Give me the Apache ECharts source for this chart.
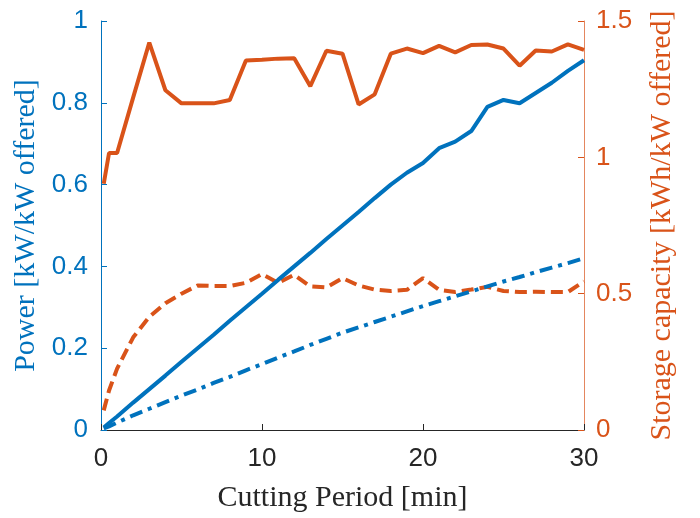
<!DOCTYPE html>
<html><head><meta charset="utf-8">
<script src="https://cdn.jsdelivr.net/npm/echarts@6/dist/echarts.min.js"></script>
<style>html,body{margin:0;padding:0;background:#fff}#c{width:700px;height:518px}</style>
</head><body><div id="c"></div>
<script>
const cuttingPeriod = [0.17,0.5,1,2,3,4,5,6,7,8,9,10,11,12,13,14,15,16,17,18,19,20,21,22,23,24,25,26,27,28,29,30];
const powerSolid = [0.006,0.017,0.033,0.067,0.1,0.133,0.167,0.2,0.233,0.267,0.3,0.333,0.367,0.4,0.433,0.467,0.5,0.533,0.567,0.6,0.629,0.653,0.689,0.705,0.731,0.79,0.807,0.799,0.824,0.849,0.878,0.904];
const powerDashDot = [0.004,0.009,0.018,0.036,0.052,0.068,0.084,0.099,0.115,0.13,0.146,0.161,0.177,0.192,0.208,0.223,0.238,0.251,0.264,0.277,0.29,0.303,0.315,0.327,0.339,0.351,0.363,0.374,0.386,0.397,0.408,0.42];
const storageSolid = [0.903,1.016,1.016,1.22,1.421,1.246,1.198,1.198,1.198,1.21,1.355,1.358,1.362,1.363,1.261,1.391,1.38,1.194,1.231,1.38,1.399,1.382,1.409,1.385,1.412,1.414,1.399,1.336,1.392,1.388,1.414,1.394];
const storageDashed = [0.072,0.145,0.225,0.34,0.415,0.465,0.5,0.53,0.528,0.528,0.54,0.572,0.54,0.569,0.527,0.523,0.557,0.53,0.515,0.51,0.514,0.557,0.514,0.506,0.515,0.525,0.51,0.506,0.507,0.506,0.506,0.545];

const BLUE = '#0072BD', ORANGE = '#D95319', GRAY = '#262626';
const pair = arr => cuttingPeriod.map((x,i)=>[x,arr[i]]);
const chart = echarts.init(document.getElementById('c'), null, {renderer:'canvas'});
chart.setOption({
  animation:false,
  grid:{left:101,right:116,top:21,bottom:85,containLabel:false},
  xAxis:{type:'value',min:0,max:30,interval:10,
    name:'Cutting Period [min]',nameLocation:'middle',nameGap:53,
    nameTextStyle:{fontFamily:'Liberation Serif',fontSize:30,color:GRAY},
    axisLine:{show:true,lineStyle:{color:GRAY,width:1}},
    axisTick:{show:true,inside:true,length:6,lineStyle:{color:GRAY}},
    axisLabel:{fontFamily:'Liberation Sans',fontSize:26,color:GRAY,margin:16},
    splitLine:{show:false}},
  yAxis:[
    {type:'value',min:0,max:1,interval:0.2,position:'left',
      name:'Power [kW/kW offered]',nameLocation:'middle',nameGap:60,
      nameTextStyle:{fontFamily:'Liberation Serif',fontSize:30,color:BLUE},
      axisLine:{show:true,lineStyle:{color:BLUE,width:1}},
      axisTick:{show:true,inside:true,length:6,lineStyle:{color:BLUE}},
      axisLabel:{fontFamily:'Liberation Sans',fontSize:26,color:BLUE,margin:13},
      splitLine:{show:false}},
    {type:'value',min:0,max:1.5,interval:0.5,position:'right',
      name:'Storage capacity [kWh/kW offered]',nameLocation:'middle',nameGap:63,
      nameTextStyle:{fontFamily:'Liberation Serif',fontSize:30,color:ORANGE},
      axisLine:{show:true,lineStyle:{color:ORANGE,width:1,opacity:0.7}},
      axisTick:{show:true,inside:true,length:6,lineStyle:{color:ORANGE}},
      axisLabel:{fontFamily:'Liberation Sans',fontSize:26,color:ORANGE,margin:12},
      splitLine:{show:false}}
  ],
  series:[
    {type:'line',yAxisIndex:0,data:pair(powerSolid),showSymbol:false,lineStyle:{color:BLUE,width:4},z:3},
    {type:'line',yAxisIndex:0,data:pair(powerDashDot),showSymbol:false,lineStyle:{color:BLUE,width:4,type:[13,6,4,6]},z:3},
    {type:'line',yAxisIndex:1,data:pair(storageSolid),showSymbol:false,lineStyle:{color:ORANGE,width:4},z:2},
    {type:'line',yAxisIndex:1,data:pair(storageDashed),showSymbol:false,lineStyle:{color:ORANGE,width:4,type:[12,6]},z:2}
  ]
});
</script></body></html>
